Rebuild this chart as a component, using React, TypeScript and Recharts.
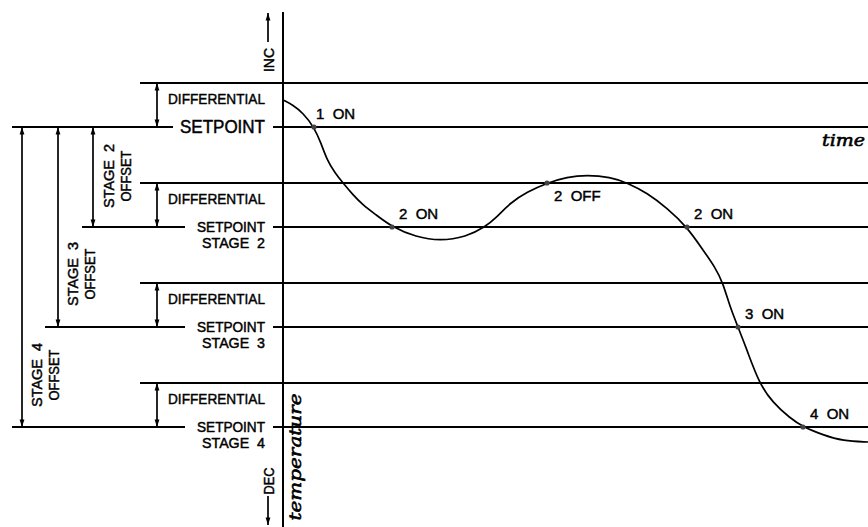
import React from "react";
import {
  ComposedChart,
  Line,
  XAxis,
  YAxis,
  ReferenceLine,
  ReferenceDot,
} from "recharts";

// temperature trace (time units, temperature units)
const curveTime = [
  0, 1.0, 2.0, 3.1, 3.8, 4.4, 5.2, 6.0, 7.0, 8.0, 9.2, 10.9, 13.3, 15.7, 18.3,
  20.2, 21.4, 22.7, 24.4, 26.4, 28.4, 30.4, 32.7, 34.5, 36.4, 38.4, 40.4, 42.0,
  43.2, 44.0, 44.7, 45.5, 46.4, 47.6, 49.0, 50.7, 52.0, 54.0, 56.0, 58.5,
];
const curveTemp = [
  32.7, 32.2, 31.4, 30.0, 28.4, 26.7, 25.4, 24.4, 23.2, 22.2, 21.3, 20.0, 19.0,
  18.6, 19.0, 20.0, 21.0, 22.4, 23.5, 24.4, 25.0, 25.2, 25.0, 24.4, 23.4, 21.9,
  20.0, 17.7, 16.0, 14.4, 12.0, 10.0, 7.7, 4.4, 2.4, 0.9, 0.0, -0.8, -1.4, -1.5,
];

// stages
const stageNames = ["1", "2", "3", "4"];
const stageSetpoints = [30, 20, 10, 0];
const differential = 4.4;

// switching events along the trace
const eventNames = ["1  ON", "2  ON", "2  OFF", "2  ON", "3  ON", "4  ON"];
const eventTime = [3.1, 10.9, 26.4, 40.4, 45.5, 52.0];
const eventTemp = [30, 20, 24.4, 20, 10, 0];

const rows = curveTime.map((t, i) => ({ t, temp: curveTemp[i] }));

// layout (chart units, 10px per unit)
const W = 868;
const H = 527;
const T_MIN = -28.3;
const T_MAX = 58.5;
const Y_MIN = -10;
const Y_MAX = 42.7;
const LABEL_X = -1.8;
const RIGHT_START = -1.0;
const DIFF_START = -14.3;
const DIFF_DIM_X = -12.6;
const offsetDimX = [0, -19.0, -22.5, -26.1];
const spLeftStart = [-27.1, -20.1, -23.8, -27.1];
const spLeftEnd = [-11.0, -9.8, -9.8, -9.8];
const offsetLabelPos = [
  [0, 0],
  [-16.6, 25.1],
  [-20.2, 15.3],
  [-23.8, 5.2],
];

const SANS = "'Liberation Sans', Arial, sans-serif";
const SERIF = "'DejaVu Serif', serif";

const dimLine = (startHead: boolean, endHead: boolean) => (p: any) => {
  const { x1, y1, x2, y2 } = p;
  const dir = y2 > y1 ? 1 : -1;
  const head = (x: number, y: number, d: number) => (
    <path
      d={`M${x},${y} L${x - 2.4},${y + d * 7.5} L${x + 2.4},${y + d * 7.5} Z`}
      fill="#000"
    />
  );
  return (
    <g>
      <line x1={x1} y1={y1} x2={x2} y2={y2} stroke="#000" strokeWidth={1.7} />
      {startHead && head(x1, y1, dir)}
      {endHead && head(x2, y2, -dir)}
    </g>
  );
};

function note(
  key: string,
  t: number,
  temp: number,
  draw: (cx: number, cy: number) => React.ReactNode
) {
  return (
    <ReferenceDot
      key={key}
      x={t}
      y={temp}
      r={0}
      fill="none"
      stroke="none"
      ifOverflow="visible"
      label={{
        content: (p: any) => {
          const vb = p.viewBox;
          return draw(vb.x + vb.width / 2, vb.y + vb.height / 2);
        },
      }}
    />
  );
}

function hline(key: string, x1: number, x2: number, y: number, w = 2) {
  return (
    <ReferenceLine
      key={key}
      segment={[
        { x: x1, y },
        { x: x2, y },
      ]}
      stroke="#000"
      strokeWidth={w}
      ifOverflow="visible"
    />
  );
}

const sans = (
  x: number,
  y: number,
  text: string,
  size: number,
  len?: number,
  anchor = "end",
  rotate = false
) => (
  <text
    x={x}
    y={y}
    fontFamily={SANS}
    fontSize={size}
    textAnchor={anchor}
    dominantBaseline="central"
    fill="#000"
    stroke="#000"
    strokeWidth={0.45}
    style={{ whiteSpace: "pre" }}
    textLength={len}
    lengthAdjust={len ? "spacingAndGlyphs" : undefined}
    transform={rotate ? `rotate(-90 ${x} ${y})` : undefined}
  >
    {text}
  </text>
);

const serif = (x: number, y: number, text: string, len: number, anchor: string, rotate: boolean) => (
  <text
    x={x}
    y={y}
    fontFamily={SERIF}
    fontStyle="italic"
    fontSize={17}
    fill="#000"
    stroke="#000"
    strokeWidth={0.6}
    textAnchor={anchor}
    dominantBaseline="central"
    textLength={len}
    lengthAdjust="spacingAndGlyphs"
    transform={rotate ? `rotate(-90 ${x} ${y})` : undefined}
  >
    {text}
  </text>
);

export default function App() {
  return (
    <div style={{ position: "absolute", left: 0, top: 0, background: "#fff" }}>
      <ComposedChart
        width={W}
        height={H}
        data={rows}
        margin={{ top: 0, right: 0, bottom: 0, left: 0 }}
      >
        <XAxis
          dataKey="t"
          type="number"
          domain={[T_MIN, T_MAX]}
          allowDataOverflow
          hide
        />
        <YAxis
          dataKey="temp"
          type="number"
          domain={[Y_MIN, Y_MAX]}
          allowDataOverflow
          hide
        />

        {/* horizontal setpoint / differential lines */}
        {stageSetpoints.map((sp, i) => [
          hline(`d${i}`, DIFF_START, T_MAX, sp + differential),
          hline(`sl${i}`, spLeftStart[i], spLeftEnd[i], sp),
          hline(`sr${i}`, RIGHT_START, T_MAX, sp),
        ])}

        {/* differential dimensions */}
        {stageSetpoints.map((sp, i) => (
          <ReferenceLine
            key={`dd${i}`}
            segment={[
              { x: DIFF_DIM_X, y: sp + differential },
              { x: DIFF_DIM_X, y: sp },
            ]}
            ifOverflow="visible"
            shape={dimLine(true, true)}
          />
        ))}

        {/* stage offset dimensions */}
        {stageSetpoints.slice(1).map((sp, j) => (
          <ReferenceLine
            key={`od${j}`}
            segment={[
              { x: offsetDimX[j + 1], y: stageSetpoints[0] },
              { x: offsetDimX[j + 1], y: sp },
            ]}
            ifOverflow="visible"
            shape={dimLine(true, true)}
          />
        ))}

        {/* temperature axis */}
        <ReferenceLine
          segment={[
            { x: 0, y: 41.5 },
            { x: 0, y: Y_MIN },
          ]}
          stroke="#000"
          strokeWidth={2}
          ifOverflow="visible"
        />
        <ReferenceLine
          segment={[
            { x: -1.5, y: 41.4 },
            { x: -1.5, y: 38.5 },
          ]}
          ifOverflow="visible"
          shape={dimLine(true, false)}
        />
        <ReferenceLine
          segment={[
            { x: -1.5, y: -6.9 },
            { x: -1.5, y: -9.8 },
          ]}
          ifOverflow="visible"
          shape={dimLine(false, true)}
        />

        <Line
          dataKey="temp"
          type="basis"
          stroke="#000"
          strokeWidth={1.7}
          dot={false}
          activeDot={false}
          isAnimationActive={false}
        />

        {/* event dots and labels */}
        {eventNames.map((name, i) => (
          <ReferenceDot
            key={`ev${i}`}
            x={eventTime[i]}
            y={eventTemp[i]}
            r={2.6}
            fill="#444"
            stroke="none"
            ifOverflow="visible"
            label={{
              content: (p: any) => {
                const vb = p.viewBox;
                const cx = vb.x + vb.width / 2;
                const cy = vb.y + vb.height / 2;
                const below = name.includes("OFF");
                const dx = i === 0 ? 2 : 7;
                return sans(cx + dx, below ? cy + 12.5 : cy - 14, name, 15, undefined, "start");
              },
            }}
          />
        ))}

        {/* left-hand labels */}
        {stageSetpoints.map((sp, i) => [
          note(`dl${i}`, LABEL_X, sp + differential - 1.5, (x, y) =>
            sans(x, y, "DIFFERENTIAL", 15, 97)
          ),
          i === 0
            ? note(`sp${i}`, LABEL_X, sp, (x, y) => sans(x, y, "SETPOINT", 17.5, 85))
            : note(`sp${i}`, LABEL_X, sp, (x, y) => (
                <g>
                  {sans(x, y, "SETPOINT", 14, 68)}
                  {sans(x, y + 15.5, `STAGE  ${stageNames[i]}`, 14, 63)}
                </g>
              )),
        ])}

        {stageNames.slice(1).map((s, j) =>
          note(`ol${j}`, offsetLabelPos[j + 1][0], offsetLabelPos[j + 1][1], (x, y) => (
            <g>
              {sans(x - 8.5, y, `STAGE  ${s}`, 14, 64, "middle", true)}
              {sans(x + 8.5, y, "OFFSET", 14, 51, "middle", true)}
            </g>
          ))
        )}

        {note("inc", -1.5, 36.7, (x, y) => sans(x, y, "INC", 15, 24, "middle", true))}
        {note("dec", -1.5, -5.4, (x, y) => sans(x, y, "DEC", 15, 27, "middle", true))}

        {note("temperature", 1.2, -3.0, (x, y) => serif(x, y, "temperature", 127, "middle", true))}
        {note("time", 58.2, 28.7, (x, y) => serif(x, y, "time", 43, "end", false))}
      </ComposedChart>
    </div>
  );
}
